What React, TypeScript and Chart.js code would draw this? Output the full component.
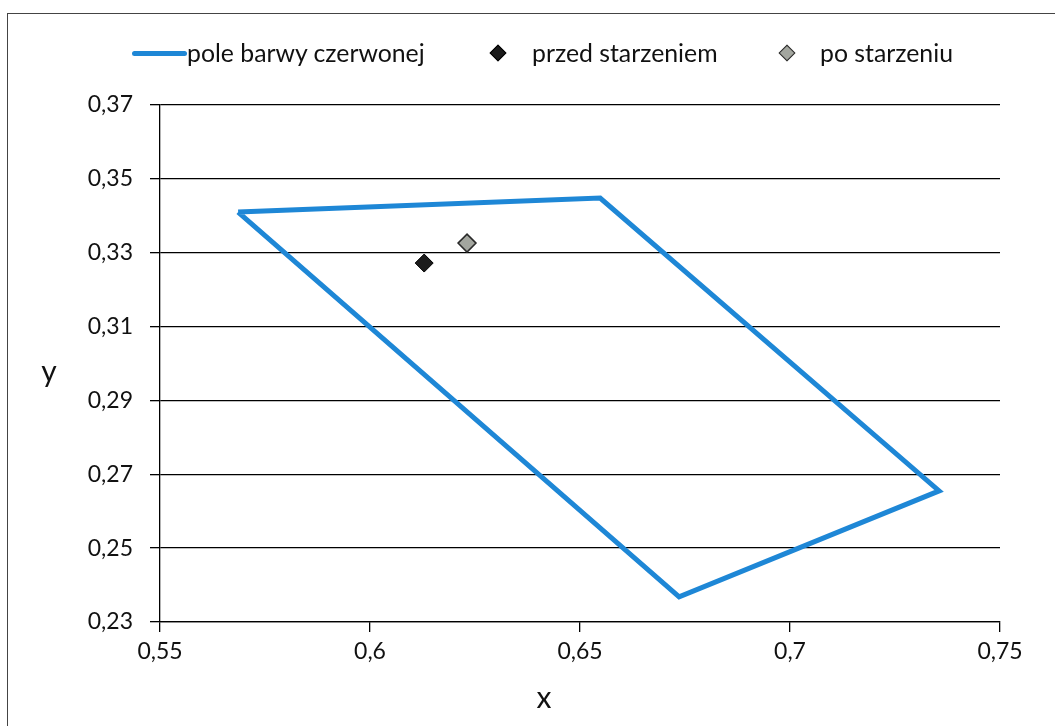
import React, { useEffect, useRef } from "react";
import { Chart, registerables } from "chart.js";

Chart.register(...registerables);

// Data
const polygonX = [0.5686, 0.6548, 0.7355, 0.6736, 0.5686];
const polygonY = [0.341, 0.3448, 0.2655, 0.2368, 0.341];
const beforeX = [0.6129];
const beforeY = [0.3272];
const afterX = [0.6231];
const afterY = [0.3326];
const xTicks = [0.55, 0.6, 0.65, 0.7, 0.75];
const yTicks = [0.23, 0.25, 0.27, 0.29, 0.31, 0.33, 0.35, 0.37];
const seriesNames = ["pole barwy czerwonej", "przed starzeniem", "po starzeniu"];

const fmt = (v: number) => String(Math.round(v * 100) / 100).replace(".", ",");
const FONT = "Lato, 'Open Sans', sans-serif";

export default function App() {
  const ref = useRef<HTMLCanvasElement | null>(null);

  useEffect(() => {
    if (!ref.current) return;
    const chart = new Chart(ref.current, {
      type: "scatter",
      data: {
        datasets: [
          {
            label: seriesNames[1],
            data: beforeX.map((x, i) => ({ x, y: beforeY[i] })),
            pointStyle: "rectRot",
            pointRadius: 9,
            backgroundColor: "#1b1b1b",
            borderColor: "#000",
            borderWidth: 1,
            order: 1,
          },
          {
            label: seriesNames[2],
            data: afterX.map((x, i) => ({ x, y: afterY[i] })),
            pointStyle: "rectRot",
            pointRadius: 9,
            backgroundColor: "#a3a69f",
            borderColor: "#2a2a2a",
            borderWidth: 1.5,
            order: 1,
          },
          {
            label: seriesNames[0],
            data: polygonX.map((x, i) => ({ x, y: polygonY[i] })),
            showLine: true,
            borderColor: "#1e87d6",
            borderWidth: 5,
            pointRadius: 0,
            fill: false,
            order: 2,
          } as any,
        ],
      },
      options: {
        animation: false,
        responsive: false,
        layout: { padding: { top: 105, right: 55, left: 0, bottom: 0 } },
        plugins: { legend: { display: false }, tooltip: { enabled: false } },
        scales: {
          x: {
            type: "linear",
            min: 0.55,
            max: 0.75,
            afterBuildTicks: (s: any) => {
              s.ticks = xTicks.map((v) => ({ value: v }));
            },
            afterFit: (s: any) => {
              s.height = 104;
            },
            grid: {
              drawOnChartArea: false,
              drawTicks: true,
              tickLength: 10,
              color: "#000",
              lineWidth: 1.3,
            },
            border: { display: true, color: "#000", width: 1.3 },
            ticks: {
              padding: 6,
              color: "#111",
              font: { family: FONT, size: 23 },
              callback: (v: any) => fmt(Number(v)),
            },
          },
          y: {
            type: "linear",
            min: 0.23,
            max: 0.37,
            afterBuildTicks: (s: any) => {
              s.ticks = yTicks.map((v) => ({ value: v }));
            },
            afterFit: (s: any) => {
              s.width = 160;
            },
            grid: {
              drawOnChartArea: true,
              drawTicks: true,
              tickLength: 10,
              color: "#000",
              lineWidth: 1.3,
            },
            border: { display: true, color: "#000", width: 1.3 },
            ticks: {
              padding: 17,
              color: "#111",
              font: { family: FONT, size: 23 },
              callback: (v: any) => fmt(Number(v)),
            },
          },
        },
      },
    });
    return () => chart.destroy();
  }, []);

  const legendText: React.CSSProperties = {
    position: "absolute",
    top: 53,
    transform: "translateY(-50%)",
    fontFamily: FONT,
    fontSize: 24.8,
    color: "#111",
    whiteSpace: "nowrap",
    lineHeight: "28px",
  };
  const diamond = (bg: string, border: string): React.CSSProperties => ({
    position: "absolute",
    top: 53 - 6,
    width: 12,
    height: 12,
    background: bg,
    border: `1px solid ${border}`,
    boxSizing: "border-box",
    transform: "rotate(45deg)",
  });

  return (
    <div
      style={{
        position: "absolute",
        left: 0,
        top: 0,
        width: 1055,
        height: 726,
        background: "#fff",
        overflow: "hidden",
      }}
    >
      <div
        style={{
          position: "absolute",
          left: 7,
          top: 13,
          width: 1200,
          height: 900,
          border: "1px solid #444",
        }}
      />
      <canvas ref={ref} width={1055} height={726} style={{ position: "absolute", left: 0, top: 0, width: 1055, height: 726 }} />
      <div style={{ position: "absolute", left: 132, top: 51, width: 55, height: 5, borderRadius: 3, background: "#1e87d6" }} />
      <span style={{ ...legendText, left: 187 }}>{seriesNames[0]}</span>
      <div style={{ ...diamond("#1b1b1b", "#000"), left: 498 - 6 }} />
      <span style={{ ...legendText, left: 532 }}>{seriesNames[1]}</span>
      <div style={{ ...diamond("#a3a69f", "#2a2a2a"), left: 787 - 6 }} />
      <span style={{ ...legendText, left: 820 }}>{seriesNames[2]}</span>
      <span
        style={{
          position: "absolute",
          left: 544,
          top: 696,
          transform: "translate(-50%, -50%)",
          fontFamily: FONT,
          fontSize: 30,
          color: "#111",
          lineHeight: "34px",
        }}
      >
        x
      </span>
      <span
        style={{
          position: "absolute",
          left: 49,
          top: 370,
          transform: "translate(-50%, -50%)",
          fontFamily: FONT,
          fontSize: 30,
          color: "#111",
          lineHeight: "34px",
        }}
      >
        y
      </span>
    </div>
  );
}
